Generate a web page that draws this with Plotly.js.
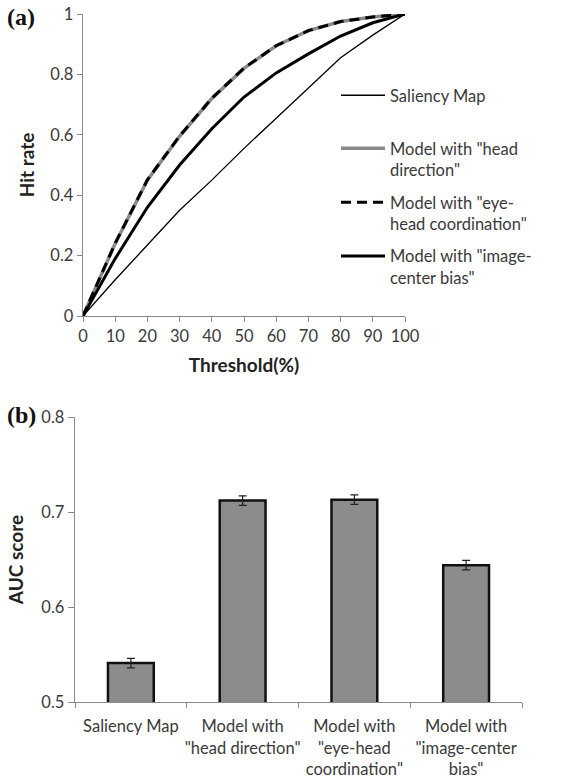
<!DOCTYPE html>
<html>
<head>
<meta charset="utf-8">
<script src="https://cdn.plot.ly/plotly-3.0.1.min.js"></script>
<style>
  html, body { margin: 0; padding: 0; background: #fff; }
  #chart { width: 577px; height: 779px; }
</style>
</head>
<body>
<div id="chart"></div>
<script>
// (a) hit rate against threshold
const threshold = [0, 10, 20, 30, 40, 50, 60, 70, 80, 90, 100];
const hitSaliency = [0, 0.12, 0.235, 0.35, 0.45, 0.555, 0.655, 0.755, 0.855, 0.93, 1];
const hitHeadDirection = [0, 0.24, 0.45, 0.595, 0.72, 0.82, 0.895, 0.945, 0.975, 0.99, 1];
const hitEyeHead = [0, 0.241, 0.451, 0.596, 0.721, 0.821, 0.895, 0.945, 0.975, 0.99, 1];
const hitCenterBias = [0, 0.19, 0.36, 0.5, 0.62, 0.725, 0.805, 0.868, 0.927, 0.971, 1];

// (b) AUC score per model
const models = [
  'Saliency Map',
  'Model with<br>"head direction"',
  'Model with<br>"eye-head<br>coordination"',
  'Model with<br>"image-center<br>bias"'
];
const aucScore = [0.541, 0.712, 0.713, 0.644];
const aucError = [0.005, 0.005, 0.005, 0.005];

const W = 577, H = 779;
const px = x => x / W;
const py = y => 1 - y / H;

const FONT = 'Lato, "Open Sans", sans-serif';
const TXT = '#3a3a3a';
const AXIS = '#8a8a8a';
const TICK_SIZE = 16.5;
const TITLE_FONT = {family: FONT, size: 19, color: '#222', weight: 'bold'};

const traces = [
  {
    x: threshold, y: hitSaliency, name: 'Saliency Map',
    mode: 'lines', line: {color: '#000', width: 1.3},
    xaxis: 'x', yaxis: 'y', legend: 'legend'
  },
  {
    x: threshold, y: hitHeadDirection, name: 'Model with "head<br>direction"',
    mode: 'lines', line: {color: '#8a8a8a', width: 3.5},
    xaxis: 'x', yaxis: 'y', legend: 'legend2', legendgroup: 'b'
  },
  {
    x: threshold, y: hitEyeHead, name: 'Model with "eye-<br>head coordination"',
    mode: 'lines', line: {color: '#000', width: 3, dash: '10px,6px'},
    xaxis: 'x', yaxis: 'y', legend: 'legend2', legendgroup: 'c'
  },
  {
    x: threshold, y: hitCenterBias, name: 'Model with "image-<br>center bias"',
    mode: 'lines', line: {color: '#000', width: 3},
    xaxis: 'x', yaxis: 'y', legend: 'legend2', legendgroup: 'd'
  },
  {
    type: 'bar', x: models, y: aucScore, showlegend: false,
    xaxis: 'x2', yaxis: 'y2',
    marker: {color: '#8c8c8c', line: {color: '#111', width: 2.5}},
    error_y: {type: 'data', array: aucError, visible: true, color: '#222', thickness: 1.2, width: 4}
  }
];

const legendBase = {
  xanchor: 'left', yanchor: 'top', valign: 'top',
  itemwidth: 44, bgcolor: 'rgba(0,0,0,0)',
  font: {family: FONT, size: TICK_SIZE, color: TXT}
};

const layout = {
  width: W, height: H,
  margin: {l: 0, r: 0, t: 0, b: 0},
  paper_bgcolor: '#fff', plot_bgcolor: '#fff',
  font: {family: FONT, size: TICK_SIZE, color: TXT},
  showlegend: true,
  legend: Object.assign({x: px(336), y: py(78)}, legendBase),
  legend2: Object.assign({x: px(336), y: py(131), tracegroupgap: 8}, legendBase),
  xaxis: {
    domain: [px(83), px(405)], anchor: 'y',
    range: [0, 100], tick0: 0, dtick: 10,
    showgrid: false, zeroline: false,
    showline: true, linecolor: AXIS, linewidth: 1.3,
    ticks: 'outside', ticklen: 5, tickcolor: AXIS,
    tickfont: {family: FONT, size: TICK_SIZE, color: TXT},
    title: {text: 'Threshold(%)', font: TITLE_FONT, standoff: 13}
  },
  yaxis: {
    domain: [py(316), py(14)], anchor: 'x',
    range: [0, 1], dtick: 0.2,
    showgrid: false, zeroline: false,
    showline: true, linecolor: AXIS, linewidth: 1.3,
    ticks: 'outside', ticklen: 5, tickcolor: AXIS,
    tickfont: {family: FONT, size: TICK_SIZE, color: TXT},
    title: {text: 'Hit rate', font: TITLE_FONT, standoff: 10}
  },
  xaxis2: {
    domain: [px(75), px(522)], anchor: 'y2',
    type: 'category', tickangle: 0, ticklabelstandoff: 9,
    showgrid: false, zeroline: false,
    showline: true, linecolor: AXIS, linewidth: 1.3,
    ticks: 'outside', tickson: 'boundaries', ticklen: 5, tickcolor: AXIS,
    tickfont: {family: FONT, size: TICK_SIZE, color: TXT}
  },
  yaxis2: {
    domain: [py(702), py(417)], anchor: 'x2',
    range: [0.5, 0.8], dtick: 0.1,
    showgrid: false, zeroline: false,
    showline: true, linecolor: AXIS, linewidth: 1.3,
    ticks: 'outside', ticklen: 6, tickcolor: AXIS,
    tickfont: {family: FONT, size: TICK_SIZE, color: TXT},
    title: {text: 'AUC score', font: TITLE_FONT, standoff: 12}
  },
  bargap: 0.59,
  annotations: [
    {text: '<b>(a)</b>', xref: 'paper', yref: 'paper', x: px(5), y: py(17),
     xanchor: 'left', yanchor: 'middle', showarrow: false,
     font: {family: '"Liberation Serif", "DejaVu Serif", serif', size: 24, color: '#111'}},
    {text: '<b>(b)</b>', xref: 'paper', yref: 'paper', x: px(5), y: py(415),
     xanchor: 'left', yanchor: 'middle', showarrow: false,
     font: {family: '"Liberation Serif", "DejaVu Serif", serif', size: 24, color: '#111'}}
  ]
};

Plotly.newPlot('chart', traces, layout, {displayModeBar: false, staticPlot: true});
</script>
</body>
</html>
